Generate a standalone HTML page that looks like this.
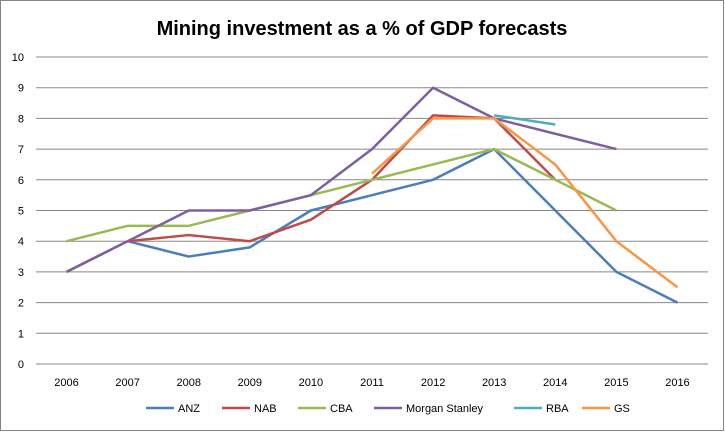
<!DOCTYPE html>
<html><head><meta charset="utf-8"><style>
body{margin:0;background:#fff;font-family:"Liberation Sans",sans-serif}
svg text{font-family:"Liberation Sans",sans-serif}
</style></head><body>
<svg id="c" width="725" height="432" xmlns="http://www.w3.org/2000/svg">
<rect x="0.5" y="0.5" width="723" height="430" fill="#fff" stroke="#868686"/>
<text x="362" y="35" text-anchor="middle" font-size="20" font-weight="bold" fill="#000">Mining investment as a % of GDP forecasts</text>
<g id="grid"></g><g id="axes"></g><g id="series"></g><g id="legend"></g>
</svg>
<script>
const categories=["2006","2007","2008","2009","2010","2011","2012","2013","2014","2015","2016"];
const yTicks=[0,1,2,3,4,5,6,7,8,9,10];
const seriesNames=["ANZ","NAB","CBA","Morgan Stanley","RBA","GS"];
const seriesColors=["#4A7EBB","#BE4B48","#98B954","#7D60A0","#4BACC6","#F79646"];
const anz=[null,4,3.5,3.8,5,5.5,6,7,5,3,2];
const nab=[3,4,4.2,4,4.7,6,8.1,8,6,null,null];
const cba=[4,4.5,4.5,5,5.5,6,6.5,7,6,5,null];
const ms=[3,4,5,5,5.5,7,9,8,7.5,7,null];
const rba=[null,null,null,null,null,null,null,8.1,7.8,null,null];
const gs=[null,null,null,null,null,6.2,8,8,6.5,4,2.5];
const allSeries=[anz,nab,cba,ms,rba,gs];
const NS="http://www.w3.org/2000/svg";
const L=36,R=708,T=57,B=364;
const xs=i=>L+(R-L)/categories.length*(i+0.5);
const ys=v=>B-(B-T)*v/10;
function mk(t,a,p){const e=document.createElementNS(NS,t);for(const k in a)e.setAttribute(k,a[k]);p.appendChild(e);return e;}
const grid=document.getElementById('grid'),axes=document.getElementById('axes'),ser=document.getElementById('series'),leg=document.getElementById('legend');
yTicks.forEach(v=>{
 const ln=mk('line',{x1:L,x2:R,y1:ys(v),y2:ys(v),stroke:'#888'},grid);
 
 
 const t=mk('text',{x:L-12,y:ys(v)+4,'text-anchor':'end','font-size':11,fill:'#000'},axes);
 t.textContent=v;
 
 
});
categories.forEach((c,i)=>{
 const t=mk('text',{x:xs(i),y:B+22,'text-anchor':'middle','font-size':11,fill:'#000'},axes);
 t.textContent=c;
 
 
});
allSeries.forEach((s,k)=>{
 let d='';let pen=false;
 s.forEach((v,i)=>{if(v==null){pen=false;return;}d+=(pen?'L':'M')+xs(i)+' '+ys(v)+' ';pen=true;});
 const p=mk('path',{d:d,fill:'none',stroke:seriesColors[k],'stroke-width':2.5,'stroke-linejoin':'round'},ser);
 
 
});
const legX=[146,222,298,374,514,582];
seriesNames.forEach((n,k)=>{
 const g=mk('g',{},leg);
 
 
 mk('line',{x1:legX[k],x2:legX[k]+28,y1:408,y2:408,stroke:seriesColors[k],'stroke-width':2.5},g);
 const t=mk('text',{x:legX[k]+32,y:412,'font-size':11,fill:'#000'},g);
 t.textContent=n;
});
</script>
</body></html>
